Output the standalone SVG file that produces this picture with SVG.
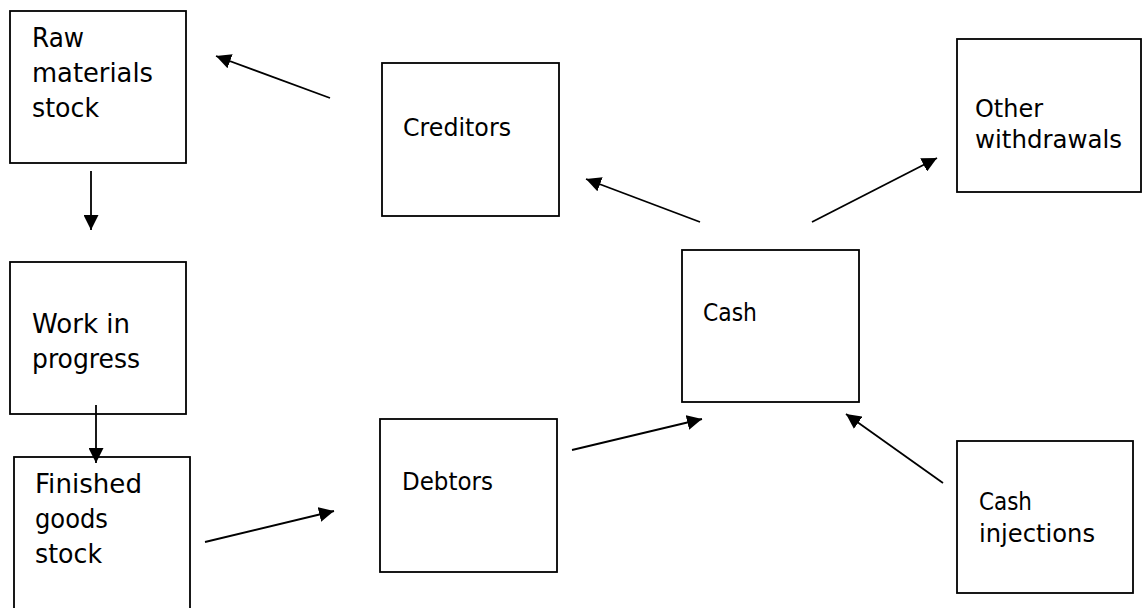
<svg xmlns="http://www.w3.org/2000/svg" width="1143" height="608" viewBox="0 0 1143 608">
  <defs>
    <marker id="arrow" markerUnits="userSpaceOnUse" markerWidth="16" markerHeight="15" refX="15" refY="7.5" orient="auto">
      <path d="M0,0 L15,7.5 L0,15 z" fill="#000"/>
    </marker>
    <style>
      .box { fill: #fff; stroke: #000; stroke-width: 1.8; }
      .lbl { font-family: "DejaVu Sans", "Liberation Sans", sans-serif; fill: #000; }
      .big { font-size: 26.5px; }
      .small { font-size: 24px; }
      .link { stroke: #000; stroke-width: 1.8; fill: none; marker-end: url(#arrow); }
    </style>
  </defs>
  <rect width="1143" height="608" fill="#fff"/>

  <g id="raw-materials">
    <rect class="box" x="10" y="11" width="176" height="152"/>
    <text class="lbl big" x="32" y="47" textLength="52" lengthAdjust="spacingAndGlyphs">Raw</text>
    <text class="lbl big" x="32" y="82" textLength="121" lengthAdjust="spacingAndGlyphs">materials</text>
    <text class="lbl big" x="32" y="117" textLength="67" lengthAdjust="spacingAndGlyphs">stock</text>
  </g>

  <g id="work-in-progress">
    <rect class="box" x="10" y="262" width="176" height="152"/>
    <text class="lbl big" x="32" y="333" textLength="98" lengthAdjust="spacingAndGlyphs">Work in</text>
    <text class="lbl big" x="32" y="368" textLength="108" lengthAdjust="spacingAndGlyphs">progress</text>
  </g>

  <g id="finished-goods">
    <rect class="box" x="14" y="457" width="176" height="170"/>
    <text class="lbl big" x="35" y="493" textLength="107" lengthAdjust="spacingAndGlyphs">Finished</text>
    <text class="lbl big" x="35" y="528" textLength="73" lengthAdjust="spacingAndGlyphs">goods</text>
    <text class="lbl big" x="35" y="563" textLength="67" lengthAdjust="spacingAndGlyphs">stock</text>
  </g>

  <g id="creditors">
    <rect class="box" x="382" y="63" width="177" height="153"/>
    <text class="lbl small" x="403" y="136" textLength="108" lengthAdjust="spacingAndGlyphs">Creditors</text>
  </g>

  <g id="debtors">
    <rect class="box" x="380" y="419" width="177" height="153"/>
    <text class="lbl small" x="402" y="490" textLength="91" lengthAdjust="spacingAndGlyphs">Debtors</text>
  </g>

  <g id="cash">
    <rect class="box" x="682" y="250" width="177" height="152"/>
    <text class="lbl small" x="703" y="321" textLength="54" lengthAdjust="spacingAndGlyphs">Cash</text>
  </g>

  <g id="other-withdrawals">
    <rect class="box" x="957" y="39" width="184" height="153"/>
    <text class="lbl small" x="975" y="117" textLength="68" lengthAdjust="spacingAndGlyphs">Other</text>
    <text class="lbl small" x="975" y="148" textLength="147" lengthAdjust="spacingAndGlyphs">withdrawals</text>
  </g>

  <g id="cash-injections">
    <rect class="box" x="957" y="441" width="176" height="152"/>
    <text class="lbl small" x="979" y="510" textLength="53" lengthAdjust="spacingAndGlyphs">Cash</text>
    <text class="lbl small" x="979" y="542" textLength="116" lengthAdjust="spacingAndGlyphs">injections</text>
  </g>

  <g id="connectors">
    <line class="link" x1="91" y1="171" x2="91" y2="230"/>
    <line class="link" x1="330" y1="98" x2="216" y2="56"/>
    <line class="link" x1="700" y1="222" x2="586" y2="179"/>
    <line class="link" x1="812" y1="222" x2="937" y2="158"/>
    <line class="link" x1="96" y1="405" x2="96" y2="463"/>
    <line class="link" x1="205" y1="542" x2="334" y2="511"/>
    <line class="link" x1="572" y1="450" x2="702" y2="419"/>
    <line class="link" x1="943" y1="483" x2="846" y2="414"/>
  </g>
</svg>
